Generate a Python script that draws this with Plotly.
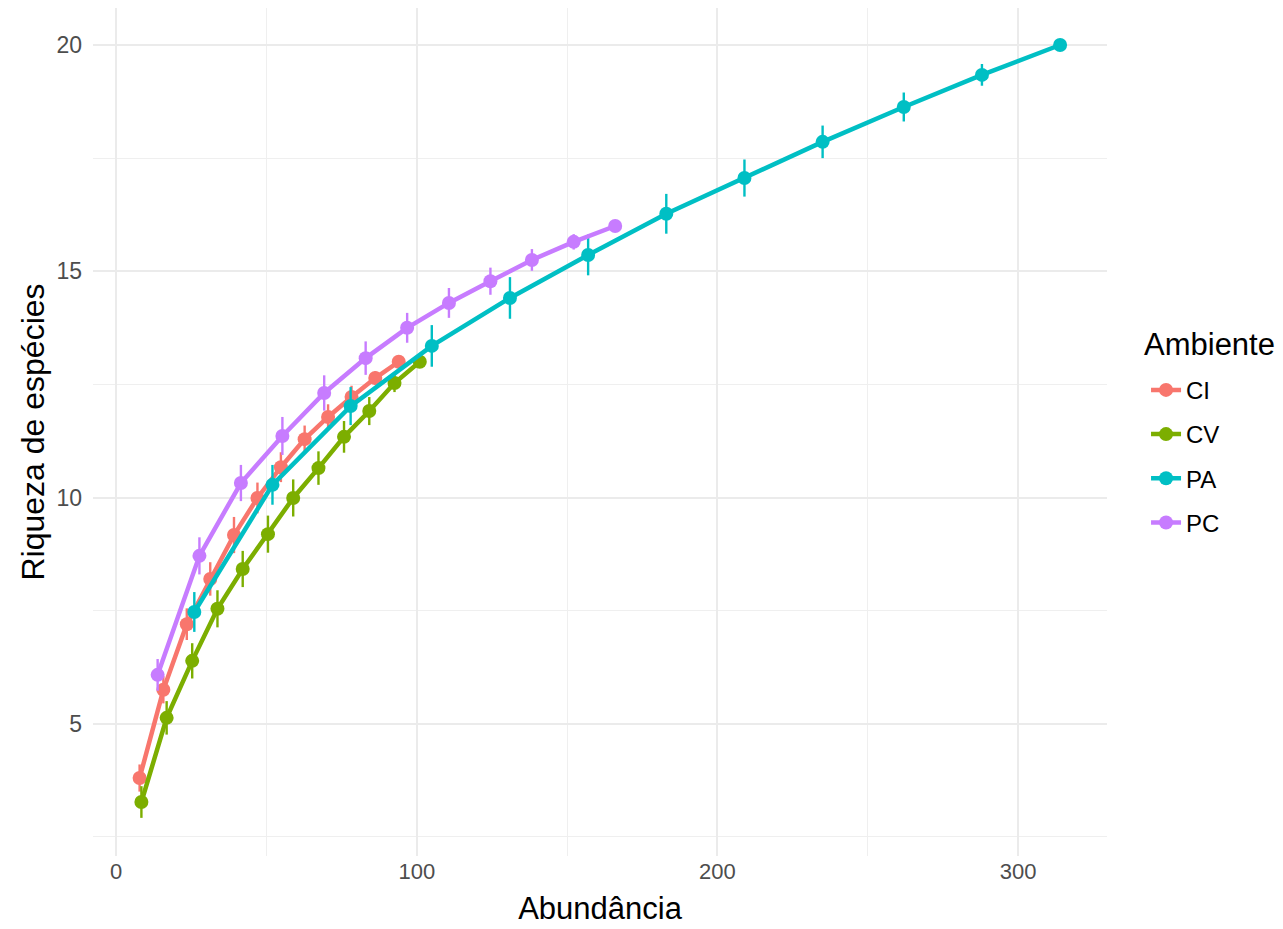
import plotly.graph_objects as go

# Data (rarefaction curves)
ambientes = ["CI", "CV", "PA", "PC"]
cores = ["#F8766D", "#7CAE00", "#00BFC4", "#C77CFF"]

ci_x = [7.8, 15.7, 23.5, 31.3, 39.2, 47, 54.8, 62.7, 70.5, 78.3, 86.2, 94]
ci_y = [3.80, 5.75, 7.20, 8.20, 9.17, 9.99, 10.67, 11.29, 11.78, 12.22, 12.64, 13.0]
ci_err = [0.30, 0.30, 0.35, 0.37, 0.40, 0.34, 0.33, 0.30, 0.28, 0.25, 0.15, 0]

cv_x = [8.4, 16.8, 25.3, 33.7, 42.1, 50.5, 58.9, 67.3, 75.8, 84.2, 92.6, 101]
cv_y = [3.27, 5.13, 6.39, 7.54, 8.42, 9.19, 9.99, 10.65, 11.34, 11.91, 12.53, 13.0]
cv_err = [0.35, 0.37, 0.39, 0.41, 0.40, 0.41, 0.41, 0.37, 0.35, 0.31, 0.20, 0]

pa_x = [26, 52, 78, 105, 131, 157, 183, 209, 235, 262, 288, 314]
pa_y = [7.47, 10.28, 12.02, 13.35, 14.41, 15.36, 16.27, 17.06, 17.86, 18.63, 19.34, 20.0]
pa_err = [0.44, 0.44, 0.42, 0.46, 0.46, 0.45, 0.44, 0.41, 0.36, 0.32, 0.24, 0]

pc_x = [13.8, 27.7, 41.5, 55.3, 69.2, 83, 96.8, 110.7, 124.5, 138.3, 152.2, 166]
pc_y = [6.08, 8.71, 10.32, 11.36, 12.31, 13.08, 13.75, 14.30, 14.78, 15.25, 15.65, 16.0]
pc_err = [0.35, 0.41, 0.40, 0.42, 0.39, 0.37, 0.33, 0.33, 0.30, 0.24, 0.17, 0]

x_ticks = [0, 100, 200, 300]
y_ticks = [5, 10, 15, 20]

series = [
    (ci_x, ci_y, ci_err),
    (cv_x, cv_y, cv_err),
    (pa_x, pa_y, pa_err),
    (pc_x, pc_y, pc_err),
]

FONT = "Liberation Sans, Arial, sans-serif"

fig = go.Figure()
for name, cor, (xs, ys, es) in zip(ambientes, cores, series):
    fig.add_trace(go.Scatter(
        x=xs, y=ys, name=name, mode="lines+markers",
        legendgroup=name,
        line=dict(color=cor, width=4.5),
        marker=dict(color=cor, size=14),
        error_y=dict(type="data", array=es, visible=True,
                     color=cor, thickness=2.4, width=0),
    ))

fig.add_annotation(
    text="Ambiente", xref="paper", yref="paper",
    x=1.0345, y=0.6026, xanchor="left", yanchor="middle",
    showarrow=False, font=dict(size=31, color="black"),
)

fig.update_layout(
    width=1275, height=921,
    paper_bgcolor="white", plot_bgcolor="white",
    margin=dict(l=85, r=176, t=0, b=73),
    font=dict(family=FONT, color="black"),
    legend=dict(
        font=dict(size=24, color="black"),
        x=1.0385, xanchor="left", y=0.5757, yanchor="top",
        tracegroupgap=10,
        itemwidth=30,
    ),
    showlegend=True,
)
fig.update_xaxes(
    range=[-7.7, 329.6],
    tickvals=x_ticks, ticktext=[str(v) for v in x_ticks],
    tickfont=dict(size=22, color="#4D4D4D"),
    title=dict(text="Abundância", font=dict(size=31, color="black"), standoff=14),
    showgrid=True, gridcolor="#EBEBEB", gridwidth=2,
    minor=dict(tickvals=[50, 150, 250], showgrid=True, gridcolor="#EFEFEF", gridwidth=1.2),
    zeroline=False, showline=False, ticks="",
)
fig.update_yaxes(
    range=[2.077, 20.818],
    tickvals=y_ticks, ticktext=[str(v) for v in y_ticks],
    tickfont=dict(size=23, color="#4D4D4D"),
    ticklabelstandoff=10,
    title=dict(text="Riqueza de espécies", font=dict(size=32, color="black"), standoff=2),
    showgrid=True, gridcolor="#EBEBEB", gridwidth=2,
    minor=dict(tickvals=[2.5, 7.5, 12.5, 17.5], showgrid=True, gridcolor="#EFEFEF", gridwidth=1.2),
    zeroline=False, showline=False, ticks="",
)

fig.write_html("out.html")
